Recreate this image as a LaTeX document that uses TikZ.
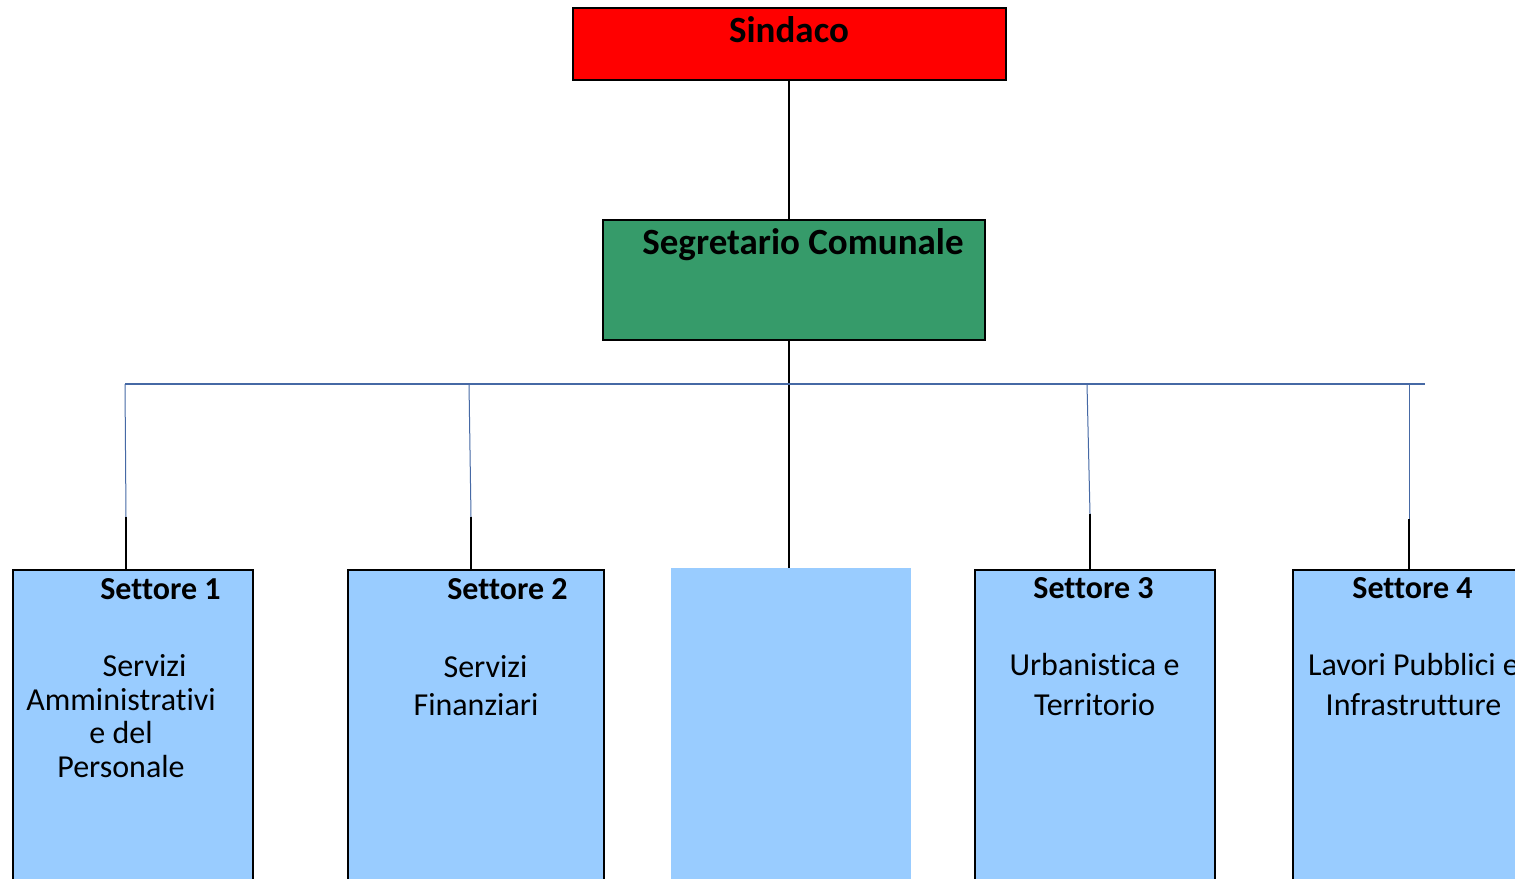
\documentclass[tikz,border=0pt]{standalone}
\usepackage{fontspec}
\setmainfont[Ligatures=NoCommon]{Carlito}
\definecolor{sred}{RGB}{255,0,0}
\definecolor{sgreen}{RGB}{54,155,106}
\definecolor{sblue}{RGB}{153,204,255}
\definecolor{sline}{RGB}{70,105,165}
\begin{document}
\begin{tikzpicture}[x=1pt,y=-1pt,
  box/.style={draw=black,line width=2.4pt,anchor=north west,inner sep=0pt},
  plainbox/.style={draw=none,anchor=north west,inner sep=0pt},
  bigtitle/.style={font=\fontsize{37}{40}\selectfont\bfseries,anchor=base,inner sep=0pt},
  sectitle/.style={font=\fontsize{32}{36}\selectfont\bfseries,anchor=base,inner sep=0pt},
  body/.style={align=center,anchor=base,inner sep=0pt},
  conn/.style={draw=black,line width=2.4pt},
  bus/.style={draw=sline,line width=1.8pt},
  drop/.style={draw=sline,line width=1pt},
  stub/.style={draw=black,line width=2.6pt}]
\useasboundingbox (0,0) rectangle (1515,878);
\clip (0,0) rectangle (1515,878);
\fill[white] (0,0) rectangle (1515,878);

% boxes
\node[box,fill=sred,minimum width=433pt,minimum height=72pt] (sind) at (572,7) {};
\node[box,fill=sgreen,minimum width=382pt,minimum height=120pt] (seg) at (602,219) {};
\node[box,fill=sblue,minimum width=240pt,minimum height=340pt] (s1) at (12,569) {};
\node[box,fill=sblue,minimum width=256pt,minimum height=340pt] (s2) at (347,569) {};
\node[plainbox,fill=sblue,minimum width=240pt,minimum height=340pt] (mid) at (671,568) {};
\node[box,fill=sblue,minimum width=240pt,minimum height=340pt] (s3) at (974,569) {};
\node[box,fill=sblue,minimum width=242pt,minimum height=340pt] (s4) at (1292,569) {};

% texts
\node[bigtitle] (tsind) at (789,42) {Sindaco};
\node[bigtitle] (tseg) at (803,254) {Segretario Comunale};

\node[sectitle] (t1) at (160.5,599) {Settore 1};
\node[sectitle] (t2) at (507.5,599) {Settore 2};
\node[sectitle] (t3) at (1093.5,598) {Settore 3};
\node[sectitle] (t4) at (1412.5,598) {Settore 4};

\node[body,font=\fontsize{32}{33.5}\selectfont] (b1) at (121,777)
  {\hspace*{47pt}Servizi\\Amministrativi\\e del\\Personale};
\node[body,font=\fontsize{32}{38}\selectfont] (b2) at (476,715)
  {\hspace*{19pt}Servizi\\Finanziari};
\node[body,font=\fontsize{32}{40}\selectfont] (b3) at (1094.5,715)
  {Urbanistica e\\Territorio};
\node[body,font=\fontsize{32}{40}\selectfont] (b4) at (1413.5,715)
  {Lavori Pubblici e\\Infrastrutture};

% connectors
\coordinate (hub) at (789,384);
\coordinate (hl) at (125,384);
\coordinate (hr) at (1425,384);
\coordinate (k1) at (126,517);
\coordinate (j2) at (469,384);
\coordinate (k2) at (471,517);
\coordinate (j3) at (1087,384);
\coordinate (k3) at (1090,514);
\coordinate (j4) at (1409,384);
\coordinate (k4) at (1409,519);

\draw[conn] (sind.south -| hub) -- (seg.north -| hub);
\draw[conn] (seg.south -| hub) -- (hub) -- (mid.north -| hub);
\draw[bus] (hl) -- (hr);
\draw[drop] (hl) -- (k1);
\draw[stub] (k1) -- (k1 |- s1.north);
\draw[drop] (j2) -- (k2);
\draw[stub] (k2) -- (k2 |- s2.north);
\draw[drop] (j3) -- (k3);
\draw[stub] (k3) -- (k3 |- s3.north);
\draw[drop] (j4) -- (k4);
\draw[stub] (k4) -- (k4 |- s4.north);
\end{tikzpicture}
\end{document}
